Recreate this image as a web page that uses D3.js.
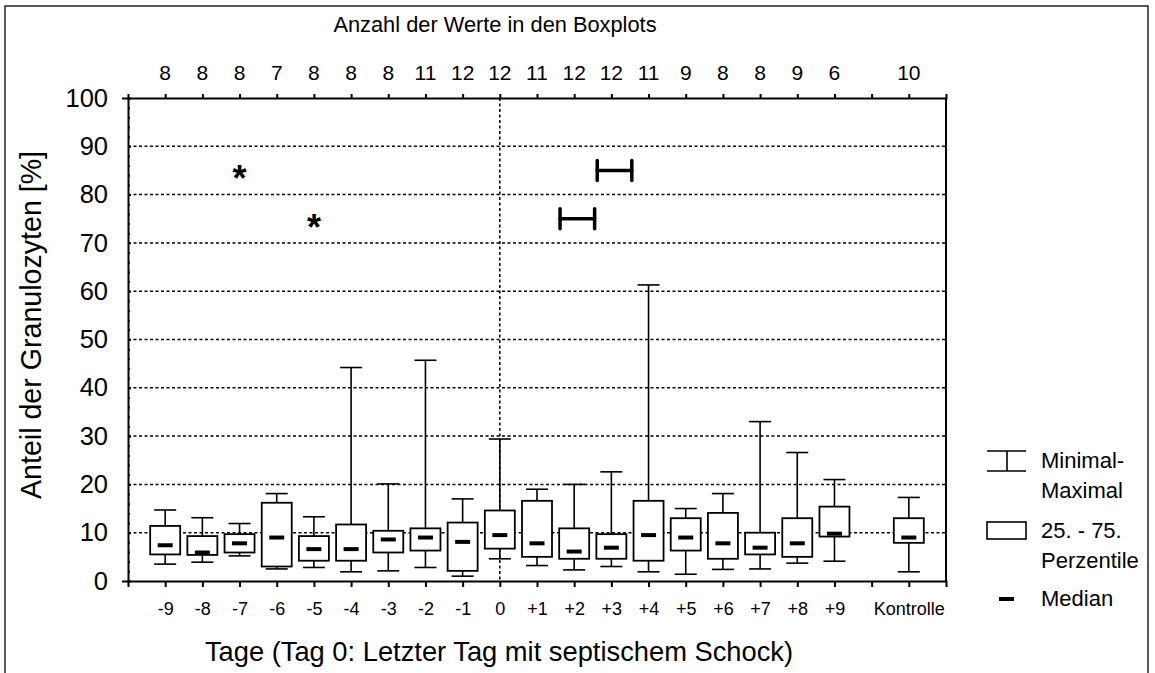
<!DOCTYPE html>
<html>
<head>
<meta charset="utf-8">
<script src="https://cdn.jsdelivr.net/npm/d3@7"></script>
<style>
  body { margin: 0; background: #fff; }
  text { font-family: "Liberation Sans", Arial, sans-serif; fill: #000; }
</style>
</head>
<body>
<svg id="chart" width="1155" height="673"></svg>
<script>
// categories (blank slot between +9 and Kontrolle)
let days = ['-9','-8','-7','-6','-5','-4','-3','-2','-1','0','+1','+2','+3','+4','+5','+6','+7','+8','+9','Kontrolle'];
let slots = days.slice(0, 19).concat([' ', 'Kontrolle']);
let counts = [8, 8, 8, 7, 8, 8, 8, 11, 12, 12, 11, 12, 12, 11, 9, 8, 8, 9, 6, 10];

let mins    = [3.5, 3.9, 5.2, 2.5, 2.8, 1.9, 2.1, 2.8, 1.0, 4.6, 3.2, 2.3, 3.0, 1.9, 1.4, 2.4, 2.5, 3.7, 4.1, 1.9];
let q1s     = [5.5, 5.4, 5.9, 3.0, 4.2, 4.2, 5.9, 6.3, 2.1, 6.7, 5.0, 4.6, 4.6, 4.2, 6.3, 4.6, 5.5, 5.0, 9.2, 7.9];
let medians = [7.4, 5.9, 7.8, 9.0, 6.6, 6.6, 8.6, 9.0, 8.1, 9.5, 7.8, 6.1, 6.9, 9.5, 9.0, 7.8, 6.9, 7.8, 9.8, 9.0];
let q3s     = [11.4, 9.3, 9.7, 16.2, 9.3, 11.7, 10.4, 10.9, 12.1, 14.6, 16.6, 10.9, 9.7, 16.6, 13.0, 14.1, 10.0, 13.0, 15.4, 13.0];
let maxs    = [14.7, 13.1, 11.9, 18.1, 13.3, 44.2, 20.1, 45.7, 17.0, 29.4, 19.0, 20.0, 22.6, 61.3, 15.0, 18.1, 33.0, 26.6, 21.0, 17.3];

let yTicks = [0, 10, 20, 30, 40, 50, 60, 70, 80, 90, 100];
let stars = [{day: '-7', value: 85}, {day: '-5', value: 75}];
let brackets = [{from: '+1', to: '+2', value: 75}, {from: '+2', to: '+3', value: 85}];
let legendLabels = [['Minimal-', 'Maximal'], ['25. - 75.', 'Perzentile'], ['Median']];

let svg = d3.select('#chart');

// outer frame
svg.append('rect')
    .attr('x', 5).attr('y', 6)
    .attr('width', 1143).attr('height', 700)
    .attr('fill', 'none')
    .attr('stroke', '#222')
    .attr('stroke-width', 1.5);

let x = d3.scalePoint().domain(slots).range([128, 946]).padding(1);
let y = d3.scaleLinear().domain([0, 100]).range([581, 98]);
let step = x.step();

// dotted grid
svg.append('g')
    .selectAll('line')
    .data(yTicks.filter(d => d > 0 && d < 100))
    .enter()
    .append('line')
    .attr('x1', 128).attr('x2', 946)
    .attr('y1', d => y(d)).attr('y2', d => y(d))
    .attr('stroke', '#000')
    .attr('stroke-width', 1.5)
    .attr('stroke-dasharray', '3,2.5');

svg.append('line')
    .attr('x1', x('0')).attr('x2', x('0'))
    .attr('y1', y(100)).attr('y2', y(0))
    .attr('stroke', '#000')
    .attr('stroke-width', 1.5)
    .attr('stroke-dasharray', '3,2.5');

// axes
let yAxis = svg.append('g')
    .attr('transform', 'translate(128,0)')
    .call(d3.axisLeft(y).tickValues(yTicks).tickSize(6).tickPadding(14));
yAxis.selectAll('.tick line').attr('x2', 3).attr('stroke-width', 2);
yAxis.selectAll('.tick text').style('font-size', '25.5px');

let yMinor = svg.append('g')
    .attr('transform', 'translate(128,0)')
    .call(d3.axisLeft(y).tickValues(d3.range(0, 101, 2).filter(d => d % 10 !== 0)).tickSize(4).tickFormat(''));
yMinor.selectAll('.tick line').attr('x2', 2).attr('stroke-width', 2);
yMinor.select('.domain').remove();

let xAxis = svg.append('g')
    .attr('transform', 'translate(0,581)')
    .call(d3.axisBottom(x).tickSize(6).tickPadding(15).tickFormat(d => d.trim()));
xAxis.selectAll('.tick line').attr('stroke-width', 2);
xAxis.selectAll('.tick text').style('font-size', '18px');

let xTop = svg.append('g')
    .attr('transform', 'translate(0,' + y(100) + ')')
    .call(d3.axisTop(x).tickSize(4).tickFormat(''));
xTop.selectAll('.tick line').attr('stroke-width', 2);

svg.selectAll('.domain').attr('stroke-width', 2).attr('stroke', '#000');
svg.selectAll('.tick line').attr('stroke', '#000');
svg.selectAll('.tick text').style('font-family', '"Liberation Sans", Arial, sans-serif');

svg.append('line')
    .attr('x1', 946).attr('x2', 946)
    .attr('y1', y(100)).attr('y2', y(0))
    .attr('stroke', '#000')
    .attr('stroke-width', 2);

// counts on top
svg.append('text')
    .attr('x', 495).attr('y', 32)
    .attr('text-anchor', 'middle')
    .style('font-size', '21.8px')
    .text('Anzahl der Werte in den Boxplots');

svg.append('g')
    .selectAll('text')
    .data(counts)
    .enter()
    .append('text')
    .attr('x', (d, i) => x(days[i]))
    .attr('y', 80)
    .attr('text-anchor', 'middle')
    .style('font-size', '21px')
    .text(d => d);

// boxplots
let boxes = svg.append('g')
    .selectAll('g')
    .data(days)
    .enter()
    .append('g')
    .attr('transform', d => 'translate(' + x(d) + ',0)');

boxes.append('line')
    .attr('x1', 0).attr('x2', 0)
    .attr('y1', (d, i) => y(mins[i])).attr('y2', (d, i) => y(maxs[i]))
    .attr('stroke', '#000').attr('stroke-width', 1.6);

boxes.append('line')
    .attr('x1', -11).attr('x2', 11)
    .attr('y1', (d, i) => y(maxs[i])).attr('y2', (d, i) => y(maxs[i]))
    .attr('stroke', '#000').attr('stroke-width', 1.6);

boxes.append('line')
    .attr('x1', -11).attr('x2', 11)
    .attr('y1', (d, i) => y(mins[i])).attr('y2', (d, i) => y(mins[i]))
    .attr('stroke', '#000').attr('stroke-width', 1.6);

boxes.append('rect')
    .attr('x', -15).attr('width', 30)
    .attr('y', (d, i) => y(q3s[i]))
    .attr('height', (d, i) => y(q1s[i]) - y(q3s[i]))
    .attr('fill', '#fff')
    .attr('stroke', '#000').attr('stroke-width', 1.8);

boxes.append('rect')
    .attr('x', -7.5).attr('width', 15)
    .attr('y', (d, i) => y(medians[i]) - 2)
    .attr('height', 4)
    .attr('fill', '#000');

// significance marks
svg.append('g')
    .selectAll('text')
    .data(stars)
    .enter()
    .append('text')
    .attr('x', d => x(d.day))
    .attr('y', d => y(d.value) + 21)
    .attr('text-anchor', 'middle')
    .style('font-size', '36px')
    .style('font-weight', 'bold')
    .text('*');

let br = svg.append('g')
    .selectAll('g')
    .data(brackets)
    .enter()
    .append('g')
    .attr('stroke', '#000')
    .attr('stroke-width', 3.5)
    .attr('stroke-linecap', 'round');

br.append('line')
    .attr('x1', d => x(d.from) + step * 0.62).attr('x2', d => x(d.to) + step * 0.55)
    .attr('y1', d => y(d.value)).attr('y2', d => y(d.value));
br.append('line')
    .attr('x1', d => x(d.from) + step * 0.62).attr('x2', d => x(d.from) + step * 0.62)
    .attr('y1', d => y(d.value) - 10).attr('y2', d => y(d.value) + 10);
br.append('line')
    .attr('x1', d => x(d.to) + step * 0.55).attr('x2', d => x(d.to) + step * 0.55)
    .attr('y1', d => y(d.value) - 10).attr('y2', d => y(d.value) + 10);

// axis titles
svg.append('text')
    .attr('x', 499).attr('y', 661)
    .attr('text-anchor', 'middle')
    .style('font-size', '27.3px')
    .text('Tage (Tag 0: Letzter Tag mit septischem Schock)');

svg.append('text')
    .attr('transform', 'translate(41,325) rotate(-90)')
    .attr('text-anchor', 'middle')
    .style('font-size', '28.6px')
    .text('Anteil der Granulozyten [%]');

// legend
let lg = svg.append('g');
lg.append('line').attr('x1', 987).attr('x2', 1026).attr('y1', 451).attr('y2', 451).attr('stroke', '#000').attr('stroke-width', 1.6);
lg.append('line').attr('x1', 987).attr('x2', 1026).attr('y1', 471).attr('y2', 471).attr('stroke', '#000').attr('stroke-width', 1.6);
lg.append('line').attr('x1', 1007).attr('x2', 1007).attr('y1', 451).attr('y2', 471).attr('stroke', '#000').attr('stroke-width', 1.6);
lg.append('rect').attr('x', 987).attr('y', 522).attr('width', 39).attr('height', 17)
    .attr('fill', '#fff').attr('stroke', '#000').attr('stroke-width', 1.6);
lg.append('rect').attr('x', 999).attr('y', 597).attr('width', 15).attr('height', 4).attr('fill', '#000');

let legendY = [468, 538, 606];
legendLabels.forEach((lines, k) => {
    lines.forEach((t, j) => {
        lg.append('text')
            .attr('x', 1041)
            .attr('y', legendY[k] + j * 30)
            .style('font-size', '22px')
            .text(t);
    });
});
</script>
</body>
</html>
